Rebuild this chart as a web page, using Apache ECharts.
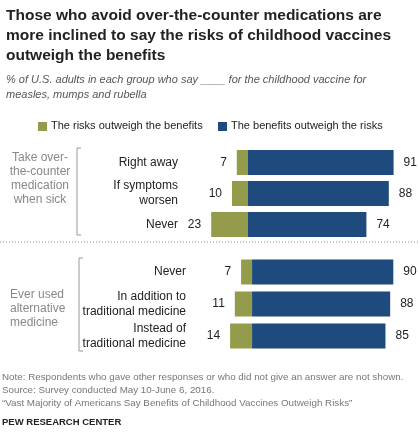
<!DOCTYPE html><html><head><meta charset="utf-8"><script src="https://cdn.jsdelivr.net/npm/echarts@6/dist/echarts.min.js"></script></head><body style="margin:0"><div id="c" style="width:420px;height:442px"></div><script>
const cats1=['Right away','If symptoms\nworsen','Never'];
const risks1=[7,10,23];
const benefits1=[91,88,74];
const cats2=['Never','In addition to\ntraditional medicine','Instead of\ntraditional medicine'];
const risks2=[7,11,14];
const benefits2=[90,88,85];
const G='#949c4b',B='#1f4a7d';
const ch=echarts.init(document.getElementById('c'));
const F='Liberation Sans, Arial, sans-serif';
function yA(i,cats,m){return {type:'category',gridIndex:i,data:cats,inverse:true,axisLine:{show:false},axisTick:{show:false},axisLabel:{margin:m,color:'#222',fontSize:12,fontFamily:F,lineHeight:15,align:'right'}};}
function xA(i){return {type:'value',gridIndex:i,min:-30,max:100,show:false};}
function ser(i,d,c,pos){return {type:'bar',xAxisIndex:i,yAxisIndex:i,stack:'s'+i,data:d.map(v=>pos==='left'?-v:v),barWidth:25,itemStyle:{color:c},label:{show:true,position:pos,distance:10,color:'#222',fontSize:12,fontFamily:F,formatter:p=>Math.abs(p.value)},silent:true};}
const txt=(x,y,t,st)=>({type:'text',left:x,top:y,style:Object.assign({text:t,fontFamily:F,fontSize:12,fill:'#222'},st)});
const ctxt=(x,y,t)=>({type:'text',style:{x:x,y:y,text:t,textAlign:'center',fontFamily:F,fontSize:12,fill:'#888',lineHeight:14}});
ch.setOption({animation:false,
grid:[{left:200,top:147,width:208,height:93},{left:205,top:256,width:204,height:96}],
xAxis:[xA(0),xA(1)],yAxis:[yA(0,cats1,22),yA(1,cats2,19)],
series:[ser(0,risks1,G,'left'),ser(0,benefits1,B,'right'),ser(1,risks2,G,'left'),ser(1,benefits2,B,'right')],
graphic:[
txt(6,6,'Those who avoid over-the-counter medications are\nmore inclined to say the risks of childhood vaccines\noutweigh the benefits',{fontSize:15.5,fontWeight:'bold',lineHeight:20}),
txt(6,72,'% of U.S. adults in each group who say ____ for the childhood vaccine for\nmeasles, mumps and rubella',{fontSize:11,fontStyle:'italic',fill:'#555',lineHeight:15}),
{type:'rect',left:38,top:122,shape:{width:9,height:9},style:{fill:G}},
txt(51,120,'The risks outweigh the benefits',{fontSize:11}),
{type:'rect',left:218,top:122,shape:{width:9,height:9},style:{fill:B}},
txt(231,120,'The benefits outweigh the risks',{fontSize:11}),
ctxt(40,151,'Take over-\nthe-counter\nmedication\nwhen sick'),
{type:'polyline',shape:{points:[[81,148],[77,148],[77,235],[81,235]]},style:{stroke:'#999',fill:null,lineWidth:1}},
{type:'line',shape:{x1:0,y1:242,x2:420,y2:242},style:{stroke:'#888',lineDash:[1,2],lineWidth:1}},
txt(10,288,'Ever used\nalternative\nmedicine',{fill:'#888',lineHeight:14}),
{type:'polyline',shape:{points:[[83,258],[79,258],[79,351],[83,351]]},style:{stroke:'#999',fill:null,lineWidth:1}},
txt(2,371,'Note: Respondents who gave other responses or who did not give an answer are not shown.\nSource: Survey conducted May 10-June 6, 2016.\n\u201cVast Majority of Americans Say Benefits of Childhood Vaccines Outweigh Risks\u201d',{fontSize:9.8,fill:'#777',lineHeight:13}),
txt(2,417,'PEW RESEARCH CENTER',{fontSize:9.5,fontWeight:'bold',fill:'#222'})
]});
</script></body></html>
